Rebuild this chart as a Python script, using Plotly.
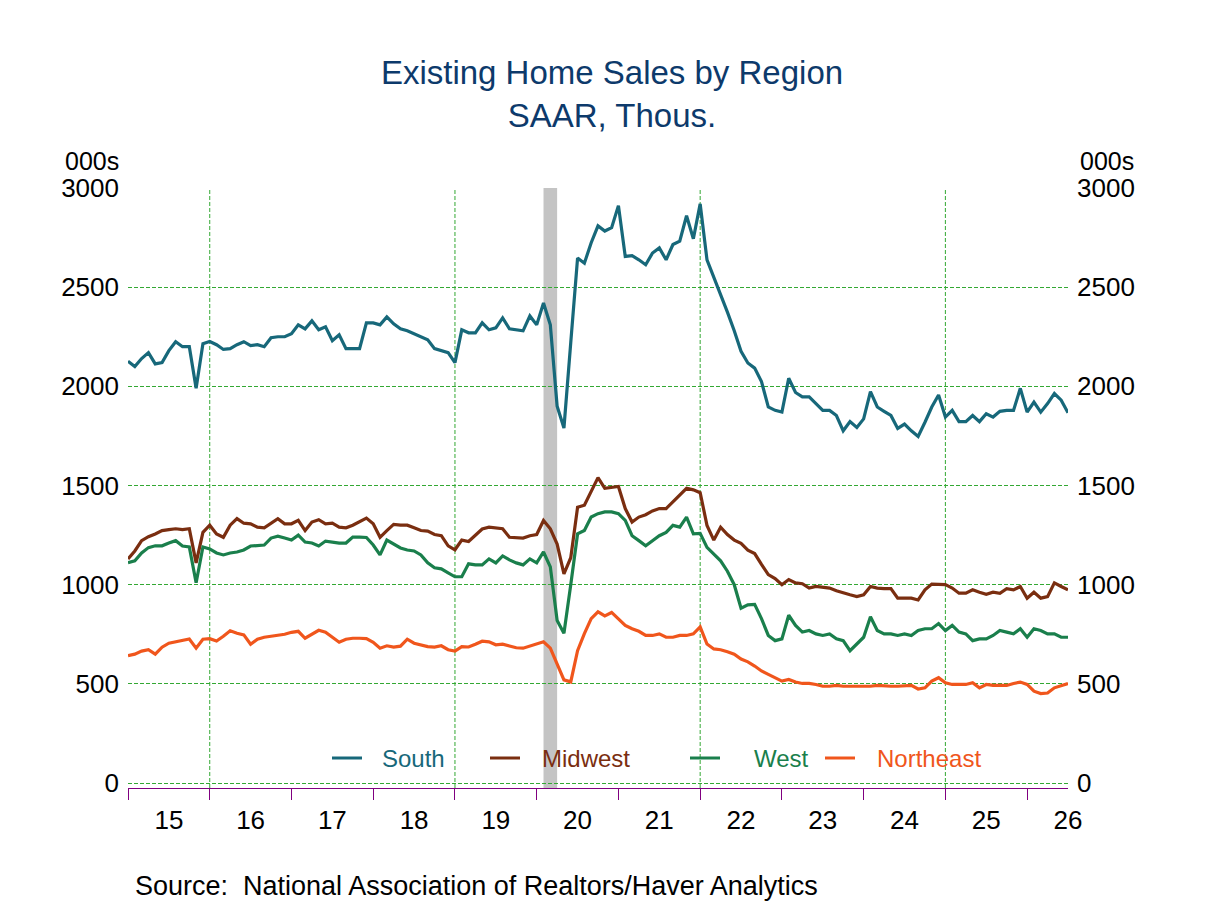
import plotly.graph_objects as go

south = [
 2126,2100,2140,2170,2113,2120,2180,2225,2200,2200,1990,2215,
 2226,2210,2186,2190,2210,2225,2205,2210,2200,2245,2250,2250,
 2265,2310,2290,2330,2285,2300,2230,2260,2190,2190,2190,2320,
 2320,2310,2350,2315,2290,2280,2265,2250,2235,2190,2180,2170,
 2120,2285,2270,2270,2320,2285,2295,2345,2290,2285,2280,2355,
 2310,2420,2310,1900,1790,2220,2647,2621,2724,2809,2783,2800,
 2911,2655,2659,2638,2613,2672,2698,2638,2715,2732,2860,2744,
 2920,2638,2553,2459,2374,2280,2177,2118,2092,2024,1896,1879,
 1870,2041,1969,1947,1947,1913,1879,1879,1853,1776,1822,1793,
 1836,1973,1896,1874,1853,1788,1810,1776,1747,1819,1896,1956,
 1845,1879,1822,1822,1853,1822,1862,1845,1874,1879,1879,1990,
 1870,1921,1870,1913,1964,1930,1867]
midwest = [
 1130,1170,1222,1242,1256,1273,1278,1282,1278,1282,1110,1264,
 1300,1256,1239,1300,1333,1310,1307,1290,1287,1310,1333,1307,
 1307,1324,1273,1316,1328,1307,1310,1290,1287,1300,1320,1336,
 1307,1239,1273,1304,1300,1300,1287,1273,1270,1253,1247,1196,
 1176,1225,1218,1247,1281,1290,1285,1282,1239,1235,1235,1247,
 1253,1324,1282,1205,1055,1136,1390,1401,1470,1540,1486,1491,
 1495,1384,1316,1341,1353,1372,1384,1384,1418,1452,1486,1478,
 1464,1299,1225,1290,1253,1225,1208,1174,1157,1102,1051,1031,
 1000,1026,1009,1005,983,991,986,983,969,957,949,940,
 949,991,983,980,980,932,932,932,923,974,1003,1003,
 1000,983,957,957,974,962,952,962,957,980,974,991,
 932,962,932,940,1009,991,974]
west = [
 1111,1120,1160,1187,1196,1196,1210,1222,1195,1190,1010,1190,
 1180,1160,1150,1160,1165,1175,1195,1196,1200,1235,1245,1235,
 1225,1250,1215,1210,1195,1220,1215,1210,1210,1240,1240,1238,
 1200,1150,1225,1205,1185,1175,1170,1150,1110,1085,1080,1060,
 1040,1040,1105,1100,1100,1130,1110,1145,1125,1110,1100,1130,
 1110,1165,1090,820,755,1000,1256,1273,1341,1358,1367,1367,
 1358,1324,1247,1222,1196,1222,1247,1264,1299,1290,1341,1256,
 1259,1188,1154,1120,1068,1000,881,898,901,829,744,718,
 727,846,795,761,769,752,744,752,727,718,667,701,
 735,838,769,752,752,744,752,744,769,778,778,804,
 769,795,761,752,718,727,727,744,769,761,752,778,
 735,778,769,752,752,735,735]
northeast = [
 642,650,665,672,650,685,705,712,717,726,680,725,
 728,716,740,768,755,747,700,725,735,740,747,750,
 760,765,730,750,770,760,735,710,725,730,730,728,
 710,680,692,685,690,725,705,695,688,685,692,672,
 665,688,686,700,715,712,697,700,690,682,680,690,
 698,712,680,600,520,510,667,753,829,863,843,860,
 829,795,778,765,744,744,752,735,735,744,744,752,
 787,701,676,672,662,650,625,611,590,565,548,531,
 514,522,509,502,502,497,488,488,492,488,488,488,
 488,488,492,488,488,488,492,492,474,480,514,531,
 506,497,497,497,506,480,497,492,492,492,502,509,
 497,463,451,454,480,492,502]

start_year = 2015
year_labels = ["15","16","17","18","19","20","21","22","23","24","25","26"]
series_names = ["South", "Midwest", "West", "Northeast"]
colors = ["#17687a", "#7a2e10", "#1a7f4c", "#f0561c"]
recession = (2020 + 1/12, 2020 + 3/12)

x = [start_year + i/12 for i in range(len(south))]
fig = go.Figure()
for name, vals, c in zip(series_names, [south, midwest, west, northeast], colors):
    fig.add_trace(go.Scatter(x=x, y=vals, mode="lines", name=name,
                             line=dict(color=c, width=3.2), showlegend=False))
fig.add_trace(go.Scatter(x=[x[0]], y=[0], yaxis="y2", mode="markers",
                         marker=dict(opacity=0), showlegend=False, hoverinfo="skip"))
fig.add_trace(go.Scatter(x=[x[0]], y=[0], xaxis="x2", mode="markers",
                         marker=dict(opacity=0), showlegend=False, hoverinfo="skip"))

GRID = "#33a833"
font = dict(family="Liberation Sans, Arial", size=26, color="black")
X0, X1 = 2015, 2026.5
fig.update_layout(
    width=1208, height=906, plot_bgcolor="white", paper_bgcolor="white",
    margin=dict(l=120, r=148, t=180, b=126),
    font=font,
    title=dict(text="Existing Home Sales by Region<br>SAAR, Thous.", x=0.5, xanchor="center",
               y=0.916, yanchor="top", font=dict(size=33, color="#0d3a6b")),
    xaxis=dict(range=[X0, X1], tickvals=list(range(2015, 2027)), ticks="outside", ticklen=11,
               tickcolor="#800080", tickwidth=1, showticklabels=False, showgrid=False,
               showline=True, linecolor="#800080", linewidth=1, zeroline=False),
    xaxis2=dict(range=[X0, X1], overlaying="x", anchor="y",
                tickvals=[y + 0.5 for y in range(2015, 2027)], ticktext=year_labels,
                ticks="", showgrid=False, showline=False, zeroline=False, side="bottom",
                ticklabelstandoff=14),
    yaxis=dict(range=[-25, 3000], tickvals=[0, 500, 1000, 1500, 2000, 2500, 3000],
               showgrid=True, gridcolor=GRID, griddash="4px,2px", gridwidth=1,
               zeroline=False, ticks="", showline=False, ticklabelstandoff=8),
    yaxis2=dict(range=[-25, 3000], tickvals=[0, 500, 1000, 1500, 2000, 2500, 3000],
                overlaying="y", side="right", showgrid=False, zeroline=False,
                ticks="", ticklabelstandoff=8),
)

shapes = [dict(type="rect", xref="x", yref="paper", x0=recession[0], x1=recession[1],
               y0=0, y1=1, fillcolor="#c4c4c4", line=dict(width=0), layer="below")]
for gx in [2016, 2019, 2022, 2025]:
    shapes.append(dict(type="line", xref="x", yref="paper", x0=gx, x1=gx, y0=0, y1=1,
                       line=dict(color=GRID, width=1, dash="4px,2px"), layer="below"))
leg = [(332, 380), (490, 540), (690, 752), (825, 875)]
for (lx, tx), name, c in zip(leg, series_names, colors):
    px0 = (lx - 128) / 940
    px1 = (lx + 30 - 128) / 940
    yy = (788 - 758) / 600
    shapes.append(dict(type="line", xref="paper", yref="paper", x0=px0, x1=px1, y0=yy, y1=yy,
                       line=dict(color=c, width=3)))
    fig.add_annotation(text=name, xref="paper", yref="paper", x=(tx - 128) / 940, y=yy,
                       xanchor="left", yanchor="middle", showarrow=False,
                       font=dict(size=24, color=c))
fig.update_layout(shapes=shapes)

fig.add_annotation(text="000s", xref="paper", yref="paper", x=-0.007, y=1.0, xanchor="right",
                   yanchor="bottom", showarrow=False, font=dict(size=25), yshift=11)
fig.add_annotation(text="000s", xref="paper", yref="paper", x=1.0, y=1.0, xanchor="left",
                   yanchor="bottom", showarrow=False, font=dict(size=25), yshift=11, xshift=10)
fig.add_annotation(text="Source:  National Association of Realtors/Haver Analytics",
                   xref="paper", yref="paper", x=(133 - 128) / 940, y=-(886 - 788) / 600,
                   xanchor="left", yanchor="middle", showarrow=False, font=dict(size=27))

fig.write_html("out.html")
